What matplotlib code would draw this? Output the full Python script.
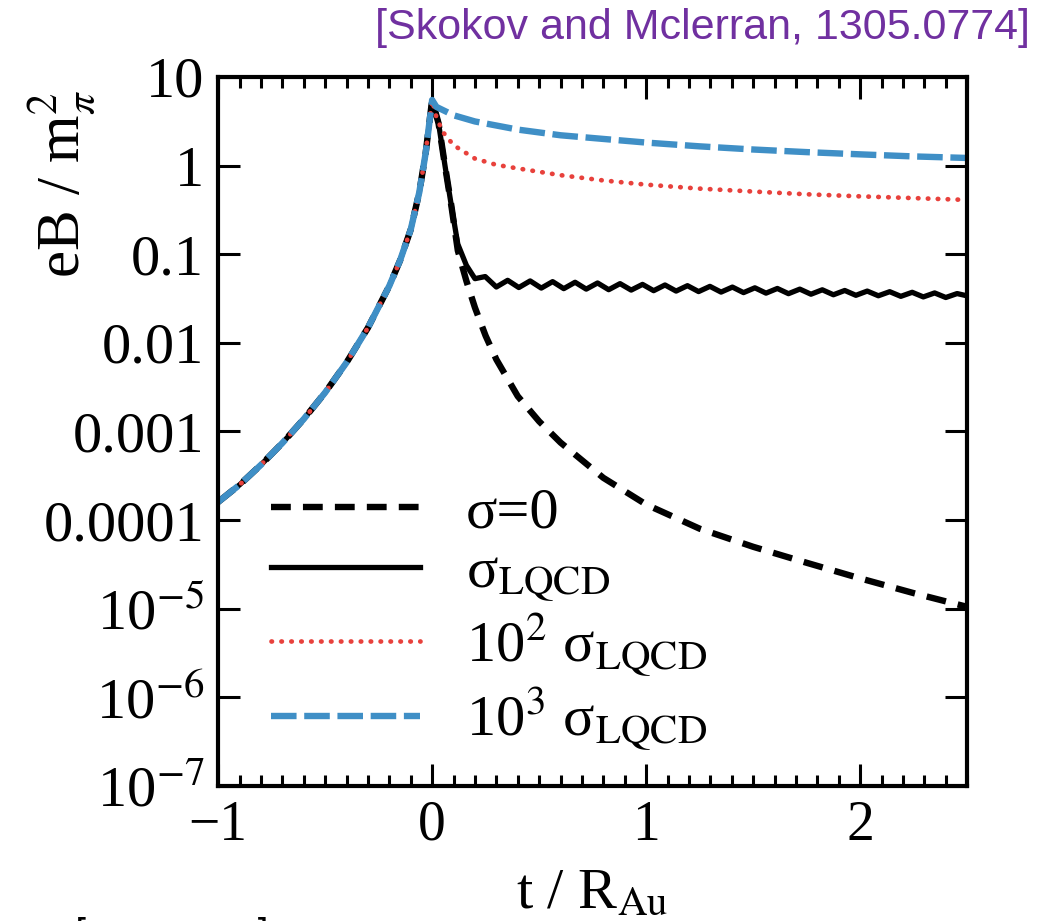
import matplotlib
matplotlib.use('Agg')
import matplotlib.pyplot as plt
from matplotlib.ticker import FixedLocator, FixedFormatter, MultipleLocator, NullLocator

plt.rcParams['font.family'] = ['Liberation Serif', 'DejaVu Serif']
plt.rcParams['mathtext.fontset'] = 'stix'

# ---- data (t / R_Au, eB / m_pi^2) ----
# common rise before the collision, all four curves coincide
t_left = [-1.0, -0.9, -0.8, -0.7, -0.6, -0.5, -0.4, -0.3, -0.2, -0.15, -0.1, -0.06, -0.03]
b_left = [1.6e-4, 2.5e-4, 4.2e-4, 7.4e-4, 1.38e-3, 2.75e-3, 6.0e-3, 0.0148, 0.044, 0.085, 0.19, 0.5, 1.4]

t_peak = [0.0]
b_peak = [5.5]

# sigma = 0 (vacuum)
t_vac = [0.03, 0.06, 0.09, 0.12, 0.16, 0.2, 0.25, 0.3, 0.4, 0.5, 0.6, 0.8, 1.0, 1.25, 1.5, 1.75, 2.0, 2.25, 2.5]
b_vac = [3.0, 1.0, 0.35, 0.11, 0.05, 0.025, 0.012, 0.0065, 0.0025, 0.0013, 7.5e-4, 3.0e-4,
         1.5e-4, 8e-5, 5e-5, 3.3e-5, 2.2e-5, 1.5e-5, 1.05e-5]

# sigma_LQCD, with the small oscillations
t_lqcd = [0.03, 0.06, 0.09, 0.12, 0.16, 0.2, 0.248,
          0.300, 0.353, 0.405, 0.458, 0.510, 0.563, 0.615, 0.668, 0.720, 0.773,
          0.825, 0.878, 0.930, 0.983, 1.035, 1.088, 1.140, 1.193, 1.245, 1.298,
          1.350, 1.403, 1.455, 1.508, 1.560, 1.613, 1.665, 1.718, 1.770, 1.823,
          1.875, 1.928, 1.980, 2.033, 2.085, 2.138, 2.190, 2.243, 2.295, 2.348,
          2.400, 2.453, 2.500]
b_lqcd = [3.0, 1.0, 0.35, 0.13, 0.075, 0.053, 0.056,
          0.0427, 0.0508, 0.0421, 0.0500, 0.0415, 0.0491, 0.0409, 0.0483, 0.0404, 0.0474,
          0.0398, 0.0466, 0.0394, 0.0457, 0.0388, 0.0450, 0.0384, 0.0442, 0.0379, 0.0434,
          0.0374, 0.0426, 0.0369, 0.0418, 0.0364, 0.0411, 0.0359, 0.0404, 0.0354, 0.0397,
          0.0349, 0.0390, 0.0344, 0.0384, 0.0340, 0.0378, 0.0335, 0.0372, 0.0330, 0.0366,
          0.0325, 0.0360, 0.0339]

# 10^2 sigma_LQCD
t_s2 = [0.02, 0.05, 0.1, 0.2, 0.3, 0.4, 0.6, 0.8, 1.0, 1.25, 1.5, 1.75, 2.0, 2.25, 2.5]
b_s2 = [3.5, 2.4, 1.7, 1.2, 1.02, 0.93, 0.78, 0.68, 0.61, 0.55, 0.51, 0.475, 0.45, 0.43, 0.41]

# 10^3 sigma_LQCD
t_s3 = [0.02, 0.1, 0.2, 0.4, 0.6, 0.8, 1.0, 1.25, 1.5, 1.75, 2.0, 2.25, 2.5]
b_s3 = [4.6, 3.7, 3.15, 2.55, 2.2, 2.0, 1.82, 1.65, 1.52, 1.42, 1.34, 1.27, 1.22]

labels = [r'σ=0', r'σ$_{\mathrm{LQCD}}$', r'10$^{2}$ σ$_{\mathrm{LQCD}}$', r'10$^{3}$ σ$_{\mathrm{LQCD}}$']

y_ticks = [1e-7, 1e-6, 1e-5, 1e-4, 1e-3, 1e-2, 1e-1, 1, 10]
y_ticklabels = [r'10$^{-7}$', r'10$^{-6}$', r'10$^{-5}$', '0.0001', '0.001', '0.01', '0.1', '1', '10']
x_ticks = [-1, 0, 1, 2]
x_ticklabels = ['\u22121', '0', '1', '2']

fig = plt.figure(figsize=(10.64, 9.21), dpi=100)
ax = fig.add_axes([0.205, 0.1466, 0.704, 0.7698])

t_base = t_left + t_peak
b_base = b_left + b_peak

ax.plot(t_base + t_vac, b_base + b_vac, color='black', lw=4.6, ls=(0, (3.1, 1.9)), label=labels[0])
ax.plot(t_base + t_lqcd, b_base + b_lqcd, color='black', lw=3.8, ls='-', label=labels[1])
ax.plot(t_base + t_s2, b_base + b_s2, color='#e8413c', lw=3.4, ls=(0, (0.1, 2.0)),
        dash_capstyle='round', label=labels[2])
ax.plot(t_base + t_s3, b_base + b_s3, color='#3f8fc6', lw=4.6, ls=(0, (4.0, 1.2)), label=labels[3])

ax.set_yscale('log')
ax.set_xlim(-1, 2.5)
ax.set_ylim(1e-7, 10)

ax.yaxis.set_major_locator(FixedLocator(y_ticks))
ax.yaxis.set_major_formatter(FixedFormatter(y_ticklabels))
ax.yaxis.set_minor_locator(NullLocator())
ax.xaxis.set_major_locator(FixedLocator(x_ticks))
ax.xaxis.set_major_formatter(FixedFormatter(x_ticklabels))
ax.xaxis.set_minor_locator(MultipleLocator(0.1))

ax.tick_params(which='both', direction='in', top=True, right=True, width=2.2)
ax.tick_params(axis='y', labelsize=42)
ax.tick_params(axis='x', labelsize=40)
ax.tick_params(which='major', length=16, pad=10)
ax.tick_params(which='minor', length=8)
for s in ax.spines.values():
    s.set_linewidth(3)

ax.set_xlabel(r't / R$_{\mathrm{Au}}$', fontsize=42)
ax.xaxis.set_label_coords(0.5, -0.172)
ax.xaxis.label.set_va('baseline')
ax.set_ylabel(r'eB / m$_{\pi}^{2}$', fontsize=44)
ax.yaxis.set_label_coords(-0.209, 0.85)
ax.yaxis.label.set_va('center')

ax.legend(loc='upper left', bbox_to_anchor=(0.04, 0.455), frameon=False, fontsize=42,
          handlelength=2.55, handletextpad=0.78, labelspacing=0.12, borderaxespad=0)

fig.text(0.968, 0.97, '[Skokov and Mclerran, 1305.0774]', color='#7030a0', fontsize=31,
         family='Liberation Sans', ha='right', va='center')
# cut-off bracket fragment at the bottom edge
fig.text(0.066, 0.004, '[', fontsize=26, family='DejaVu Sans Mono', va='top')
fig.text(0.237, 0.004, ']', fontsize=26, family='DejaVu Sans Mono', va='top')

fig.savefig('out.png', dpi=100)
